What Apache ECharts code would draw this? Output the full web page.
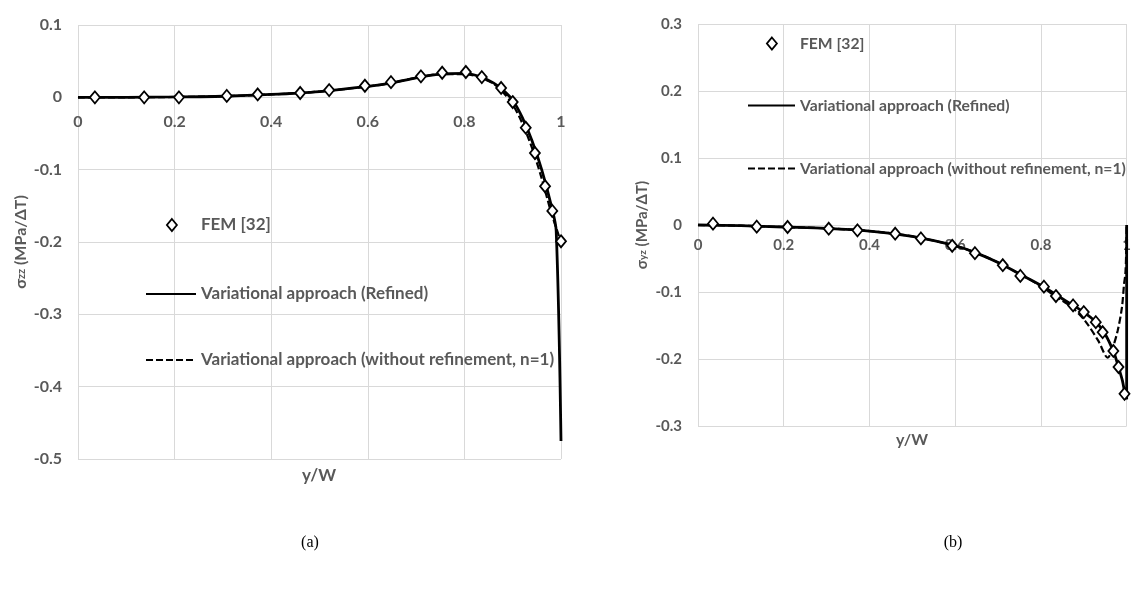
<!DOCTYPE html>
<html><head><meta charset="utf-8">
<script src="https://cdn.jsdelivr.net/npm/echarts@6/dist/echarts.min.js"></script>
<style>html,body{margin:0;padding:0;background:#fff}#c{width:1134px;height:593px}</style>
</head><body><div id="c"></div>
<script>
// ---- Chart (a): sigma_zz ----
const femA_x = [0.035,0.137,0.209,0.308,0.372,0.46,0.52,0.594,0.648,0.71,0.754,0.803,0.836,0.876,0.90,0.927,0.946,0.967,0.982,1.0];
const femA_y = [0,0,0,0.002,0.004,0.006,0.010,0.016,0.021,0.029,0.034,0.035,0.028,0.013,-0.0065,-0.042,-0.077,-0.123,-0.157,-0.199];
const refA_x = [0,0.1,0.2,0.3,0.4,0.5,0.6,0.65,0.7,0.75,0.8,0.83,0.86,0.88,0.9,0.92,0.94,0.96,0.98,0.99,1.0];
const refA_y = [0,0,0.0005,0.0015,0.004,0.008,0.015,0.02,0.027,0.032,0.033,0.029,0.02,0.01,-0.004,-0.028,-0.06,-0.1,-0.15,-0.184,-0.475];
const n1A_x  = [0,0.1,0.2,0.3,0.4,0.5,0.6,0.65,0.7,0.75,0.8,0.83,0.86,0.88,0.9,0.92,0.94,0.96,0.98,1.0];
const n1A_y  = [0,0,0.0005,0.0015,0.004,0.008,0.015,0.02,0.027,0.032,0.032,0.028,0.019,0.007,-0.01,-0.036,-0.07,-0.112,-0.16,-0.2];

// ---- Chart (b): sigma_yz ----
const femB_x = [0.035,0.137,0.209,0.305,0.372,0.46,0.52,0.593,0.646,0.711,0.752,0.807,0.835,0.875,0.90,0.928,0.944,0.969,0.981,0.995];
const femB_y = [0.002,-0.0025,-0.003,-0.0055,-0.008,-0.013,-0.02,-0.031,-0.042,-0.06,-0.076,-0.092,-0.106,-0.12,-0.13,-0.145,-0.16,-0.188,-0.212,-0.252];
const refB_x = [0,0.1,0.2,0.3,0.4,0.5,0.6,0.65,0.7,0.75,0.8,0.85,0.9,0.93,0.95,0.97,0.98,0.99,0.997,1.0,1.0];
const refB_y = [0,-0.001,-0.003,-0.005,-0.009,-0.017,-0.031,-0.042,-0.056,-0.073,-0.09,-0.11,-0.13,-0.146,-0.163,-0.19,-0.21,-0.232,-0.255,-0.26,0];
const n1B_x  = [0,0.1,0.2,0.3,0.4,0.5,0.6,0.65,0.7,0.75,0.8,0.826,0.85,0.873,0.903,0.934,0.956,0.965,0.979,0.989,0.994,0.997,0.999,1.0];
const n1B_y  = [0,-0.001,-0.003,-0.005,-0.009,-0.017,-0.031,-0.042,-0.056,-0.073,-0.091,-0.103,-0.113,-0.123,-0.143,-0.173,-0.198,-0.188,-0.158,-0.123,-0.088,-0.073,-0.04,0];

const xTicks = ['0','0.2','0.4','0.6','0.8','1'];
const names = ['FEM [32]','Variational approach (Refined)','Variational approach (without refinement, n=1)'];

const zip = (xs, ys) => xs.map((x, i) => [x, ys[i]]);
const GREY = '#595959', GRID = '#d9d9d9';
const FONT = 'Lato';
const grids = [
  { left: 78, top: 25, width: 483, height: 434 },
  { left: 698, top: 24, width: 430, height: 402 }
];
const yRange = [[-0.5, 0.1], [-0.3, 0.3]];
const fs = [16, 15];   // font size per panel

function xAxis(idx, margin) {
  const [mn, mx] = yRange[idx];
  return {
    type: 'value', gridIndex: idx, min: 0, max: 1, interval: 0.2,
    position: 'bottom', offset: -(0 - mn) / (mx - mn) * grids[idx].height,
    axisLine: { show: true, onZero: false, lineStyle: { color: GRID, width: 1 } },
    axisTick: { show: false },
    axisLabel: { color: GREY, fontFamily: FONT, fontWeight: 'bold', fontSize: fs[idx], margin: margin,
      formatter: v => xTicks[Math.round(v / 0.2)] },
    splitLine: { show: true, lineStyle: { color: GRID, width: 1 } }
  };
}
function yAxis(idx, sub, gap) {
  const f = fs[idx];
  return {
    type: 'value', gridIndex: idx, min: yRange[idx][0], max: yRange[idx][1], interval: 0.1,
    axisLine: { show: false }, axisTick: { show: false },
    axisLabel: { color: GREY, fontFamily: FONT, fontWeight: 'bold', fontSize: f, margin: 16,
      formatter: v => String(Math.round(v * 10) / 10) },
    splitLine: { show: true, lineStyle: { color: GRID, width: 1 } },
    name: '{s|σ}{b|' + sub + '}{s| (MPa/ΔT)}',
    nameLocation: 'middle', nameGap: gap, nameRotate: 90,
    nameTextStyle: { color: GREY, fontFamily: FONT, fontWeight: 'bold', fontSize: f,
      rich: { s: { fontSize: f, fontWeight: 'bold', color: GREY, fontFamily: FONT },
              b: { fontSize: f - 5, fontWeight: 'bold', color: GREY, fontFamily: FONT } } }
  };
}
function femSeries(idx, xs, ys) {
  return { name: names[0], type: 'scatter', xAxisIndex: idx, yAxisIndex: idx, data: zip(xs, ys),
    symbol: 'diamond', symbolSize: [10, 12], z: 3,
    itemStyle: { color: '#fff', borderColor: '#000', borderWidth: 1.8, opacity: 1 } };
}
function lineSeries(idx, nm, xs, ys, dashed) {
  return { name: nm, type: 'line', xAxisIndex: idx, yAxisIndex: idx, data: zip(xs, ys),
    showSymbol: false, symbol: 'none', smooth: 0.3, z: 2,
    lineStyle: { color: '#000', width: dashed ? 2.2 : 2.8, type: dashed ? [7, 3] : 'solid' },
    itemStyle: { color: '#000' } };
}
function legText(idx) {
  return { color: GREY, fontFamily: FONT, fontWeight: 'bold', fontSize: idx === 0 ? 17 : 15.7, lineHeight: 18 };
}
function femLegend(idx, cx, cy, textX) {
  return { left: cx - 5, top: cy - 9, padding: 0, itemWidth: 10, itemHeight: 12,
    data: [{ name: names[0], icon: 'diamond' }], selectedMode: false,
    itemStyle: { color: '#fff', borderColor: '#000', borderWidth: 1.8, opacity: 1 },
    textStyle: Object.assign({ padding: [0, 0, 0, textX - (cx + 5 + 5)] }, legText(idx)) };
}
function lineLegend(idx, k, left, cy, w) {
  return { left: left, top: cy - 9, padding: 0, itemWidth: w, itemHeight: 11,
    data: [names[k]], selectedMode: false,
    itemStyle: { color: 'rgba(0,0,0,0)', borderColor: 'rgba(0,0,0,0)', borderWidth: 0, opacity: 0 },
    textStyle: legText(idx) };
}

const chart = echarts.init(document.getElementById('c'), null, { renderer: 'canvas' });
chart.setOption({
  animation: false,
  backgroundColor: '#fff',
  grid: grids,
  xAxis: [xAxis(0, 17), xAxis(1, 13)],
  yAxis: [yAxis(0, 'zz', 49), yAxis(1, 'yz', 48)],
  legend: [
    femLegend(0, 171, 225, 200), lineLegend(0, 1, 145, 294, 50), lineLegend(0, 2, 145, 360, 50),
    femLegend(1, 771, 43.5, 799), lineLegend(1, 1, 747, 105.5, 47), lineLegend(1, 2, 747, 168.5, 47)
  ],
  series: [
    lineSeries(0, names[2], n1A_x, n1A_y, true),
    lineSeries(0, names[1], refA_x, refA_y, false),
    femSeries(0, femA_x, femA_y),
    lineSeries(1, names[2], n1B_x, n1B_y, true),
    lineSeries(1, names[1], refB_x, refB_y, false),
    femSeries(1, femB_x, femB_y)
  ],
  graphic: [
    { type: 'text', x: 319, y: 476, style: { text: 'y/W', fill: GREY, font: 'bold 17px Lato', align: 'center', verticalAlign: 'middle' } },
    { type: 'text', x: 912, y: 440, style: { text: 'y/W', fill: GREY, font: 'bold 16px Lato', align: 'center', verticalAlign: 'middle' } },
    { type: 'text', x: 310, y: 543, style: { text: '(a)', fill: '#000', font: '16px "Liberation Serif"', align: 'center', verticalAlign: 'middle' } },
    { type: 'text', x: 953, y: 543, style: { text: '(b)', fill: '#000', font: '16px "Liberation Serif"', align: 'center', verticalAlign: 'middle' } }
  ]
});
</script></body></html>
